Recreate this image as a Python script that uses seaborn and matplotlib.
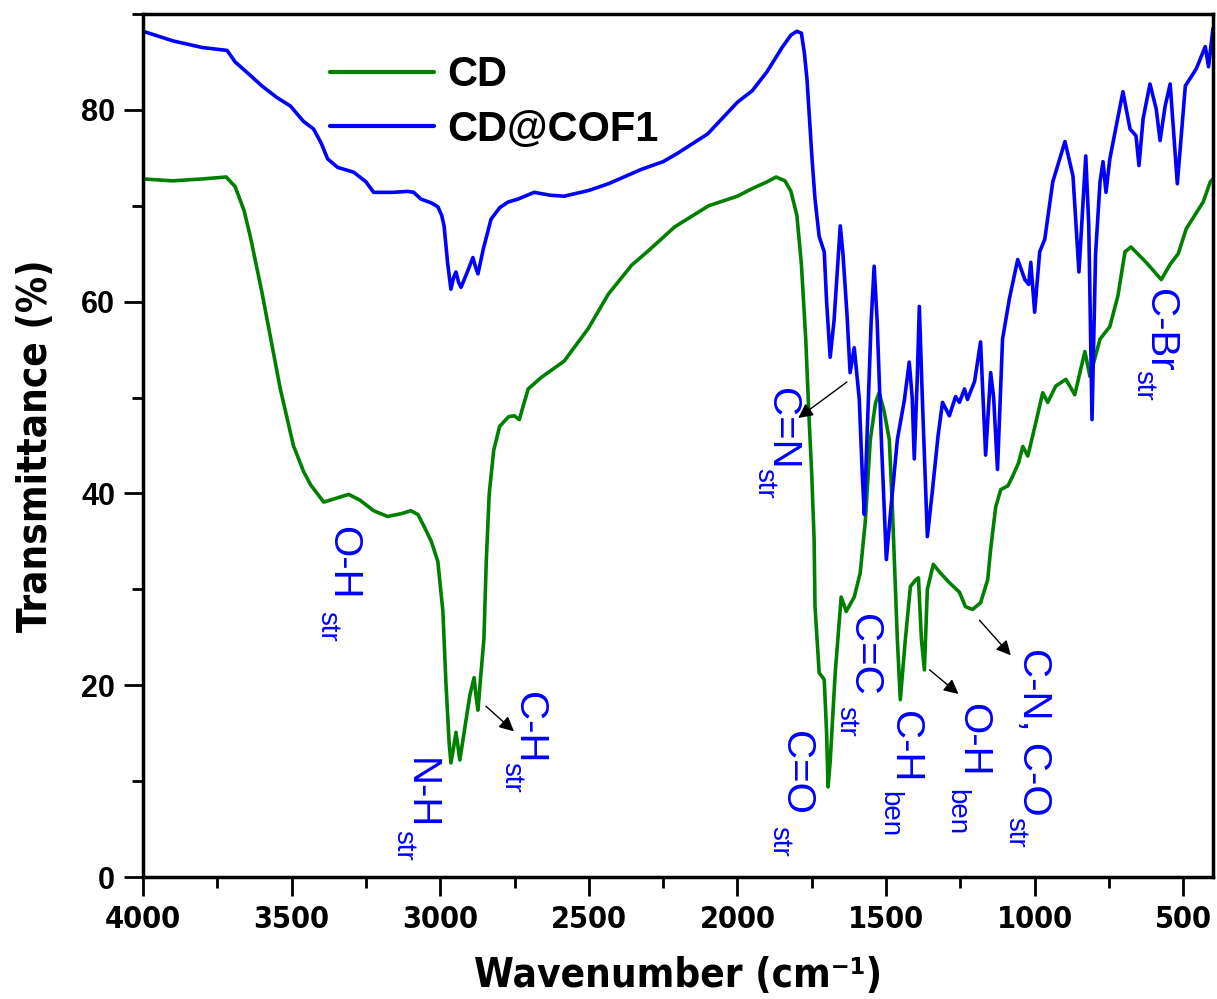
import matplotlib
matplotlib.use("Agg")
import matplotlib.pyplot as plt
from matplotlib import font_manager
from matplotlib.font_manager import FontProperties
from matplotlib.ticker import MultipleLocator
import seaborn as sns
import pandas as pd

# FTIR spectrum of CD (wavenumber in cm-1, transmittance in %)
cd_wavenumber = [4000, 3900, 3800, 3720, 3690, 3660, 3639, 3600, 3560, 3538, 3494, 3460,
                 3436, 3392, 3350, 3308, 3270, 3224, 3177, 3130, 3099, 3075, 3055, 3030,
                 3008, 2991, 2981, 2970, 2964, 2955, 2947, 2940, 2934, 2920, 2900, 2886,
                 2880, 2873, 2865, 2853, 2845, 2835, 2820, 2800, 2770, 2751, 2734, 2704,
                 2660, 2583, 2502, 2434, 2356, 2300, 2211, 2097, 2000, 1950, 1900, 1870,
                 1840, 1820, 1800, 1785, 1770, 1760, 1750, 1742, 1739, 1725, 1708, 1700,
                 1695, 1688, 1671, 1651, 1634, 1607, 1587, 1570, 1553, 1535, 1523, 1506,
                 1489, 1479, 1462, 1452, 1435, 1418, 1400, 1391, 1381, 1371, 1361, 1341,
                 1317, 1287, 1253, 1233, 1209, 1182, 1158, 1148, 1131, 1114, 1090, 1074,
                 1054, 1040, 1023, 996, 973, 956, 929, 895, 865, 831, 814, 780, 747, 720,
                 696, 676, 625, 574, 544, 517, 490, 433, 409, 400]
cd_transmittance = [72.8, 72.6, 72.8, 73.0, 72.0, 69.5, 66.8, 61.0, 54.5, 50.9, 45.0, 42.3,
                    40.9, 39.1, 39.5, 39.9, 39.3, 38.2, 37.6, 37.9, 38.2, 37.8, 36.6, 35.0,
                    32.9, 27.7, 20.4, 14.0, 11.9, 13.5, 15.1, 13.5, 12.2, 15.0, 19.0, 20.8,
                    19.0, 17.4, 20.5, 24.8, 33.0, 40.0, 44.5, 47.0, 48.0, 48.1, 47.7, 50.9,
                    52.1, 53.8, 57.2, 60.8, 63.8, 65.3, 67.8, 70.0, 71.0, 71.8, 72.5, 73.0,
                    72.6, 71.5, 69.0, 64.0, 56.0, 48.5, 42.0, 35.2, 28.2, 21.3, 20.6, 15.0,
                    9.4, 12.0, 21.3, 29.2, 27.7, 29.2, 31.7, 37.0, 45.6, 49.5, 50.5, 48.5,
                    45.6, 38.7, 24.8, 18.5, 24.8, 30.3, 31.0, 31.2, 24.8, 21.6, 30.0, 32.6,
                    31.7, 30.7, 29.7, 28.2, 27.9, 28.6, 31.0, 34.2, 38.6, 40.4, 40.8, 41.8,
                    43.2, 44.9, 43.9, 47.4, 50.5, 49.5, 51.2, 51.9, 50.3, 54.8, 52.2, 56.1,
                    57.4, 60.6, 65.2, 65.7, 64.1, 62.3, 63.9, 65.0, 67.6, 70.4, 72.5, 72.8]

# FTIR spectrum of CD@COF1
cof_wavenumber = [4000, 3900, 3800, 3717, 3690, 3639, 3600, 3550, 3504, 3460, 3426, 3400,
                  3379, 3345, 3291, 3250, 3224, 3160, 3109, 3089, 3065, 3030, 3008, 2995,
                  2987, 2975, 2964, 2955, 2947, 2938, 2930, 2910, 2890, 2880, 2873, 2855,
                  2829, 2800, 2771, 2738, 2684, 2630, 2583, 2500, 2434, 2323, 2250, 2200,
                  2100, 2000, 1950, 1900, 1850, 1820, 1800, 1785, 1775, 1766, 1749, 1739,
                  1725, 1708, 1700, 1688, 1675, 1654, 1645, 1631, 1621, 1607, 1590, 1580,
                  1573, 1565, 1550, 1540, 1530, 1515, 1499, 1485, 1462, 1438, 1422, 1412,
                  1405, 1395, 1388, 1378, 1361, 1345, 1325, 1310, 1287, 1266, 1253, 1236,
                  1226, 1202, 1182, 1165, 1148, 1138, 1125, 1108, 1085, 1070, 1057, 1033,
                  1020, 1013, 1000, 983, 966, 939, 898, 871, 851, 828, 818, 807, 795, 780,
                  770, 760, 747, 703, 679, 659, 649, 635, 612, 591, 578, 561, 544, 520,
                  493, 456, 426, 415, 400]
cof_transmittance = [88.2, 87.2, 86.5, 86.2, 85.0, 83.6, 82.5, 81.3, 80.4, 78.8, 78.0, 76.5,
                     74.9, 74.0, 73.5, 72.5, 71.4, 71.4, 71.5, 71.4, 70.7, 70.3, 69.9, 69.0,
                     67.9, 64.0, 61.3, 62.5, 63.1, 62.0, 61.5, 63.0, 64.6, 63.5, 62.9, 65.5,
                     68.6, 69.8, 70.4, 70.7, 71.4, 71.1, 71.0, 71.6, 72.3, 73.8, 74.6, 75.5,
                     77.5, 80.8, 82.0, 84.0, 86.5, 87.8, 88.2, 88.0, 86.0, 83.2, 74.9, 70.7,
                     66.8, 65.2, 60.0, 54.2, 58.0, 67.9, 65.0, 58.5, 52.6, 55.2, 49.8, 42.0,
                     37.8, 45.0, 58.0, 63.7, 58.0, 45.0, 33.1, 38.0, 45.6, 49.8, 53.7, 50.0,
                     43.6, 52.0, 59.5, 50.0, 35.5, 40.0, 46.0, 49.5, 48.1, 50.1, 49.5, 50.9,
                     49.8, 51.7, 55.8, 44.0, 52.6, 50.0, 42.5, 56.1, 60.3, 62.5, 64.4, 62.3,
                     61.8, 64.1, 58.9, 65.2, 66.5, 72.5, 76.7, 73.1, 63.1, 75.2, 68.0, 47.7,
                     65.0, 72.5, 74.6, 71.4, 74.9, 81.9, 78.0, 77.3, 74.2, 79.1, 82.7, 80.1,
                     76.8, 80.4, 82.7, 72.3, 82.5, 84.3, 86.6, 84.5, 88.5]

# band assignments: (label, subscript, label x, label y, sub x, sub y)
band_labels = [
    ("O-H", "str", 3325, 36.6, 3379, 27.7),
    ("N-H", "str", 3065, 12.4, 3123, 4.9),
    ("C-H", "str", 2701, 19.3, 2761, 12.0),
    ("C=N", "str", 1850, 51.0, 1911, 42.7),
    ("C=O", "str", 1803, 15.2, 1860, 5.3),
    ("C=C", "str", 1573, 27.4, 1634, 17.8),
    ("C-H", "ben", 1435, 17.3, 1489, 9.0),
    ("O-H", "ben", 1206, 18.1, 1263, 9.2),
    ("C-N, C-O", "str", 1003, 23.9, 1067, 6.3),
    ("C-Br", "str", 578, 61.3, 635, 52.9),
]
# arrows: (from x, from y, to x, to y)
band_arrows = [
    (2853, 18.0, 2745, 15.0),
    (1624, 51.8, 1803, 47.7),
    (1361, 21.8, 1249, 18.9),
    (1192, 27.0, 1074, 22.9),
]

df = pd.concat([
    pd.DataFrame({"Wavenumber": cd_wavenumber, "Transmittance": cd_transmittance, "Sample": "CD"}),
    pd.DataFrame({"Wavenumber": cof_wavenumber, "Transmittance": cof_transmittance, "Sample": "CD@COF1"}),
], ignore_index=True)

sns.set_style("ticks")
plt.rcParams["font.family"] = ["Liberation Sans", "DejaVu Sans"]
for key in ["text.color", "axes.labelcolor", "xtick.color", "ytick.color", "axes.edgecolor"]:
    plt.rcParams[key] = "black"

# the axis labels and x tick labels of the original are in a condensed bold face
narrow_file = None
for f in font_manager.fontManager.ttflist:
    condensed = ("Narrow" in f.name or "Condensed" in f.name
                 or f.stretch in ("condensed", "semi-condensed"))
    if condensed and f.weight in ("bold", 700):
        narrow_file = f.fname
        break
if narrow_file:
    tick_font = FontProperties(fname=narrow_file, size=22)
    label_font = FontProperties(fname=narrow_file, size=29)
else:
    tick_font = FontProperties(family="Liberation Sans", weight="bold", size=21)
    label_font = FontProperties(family="Liberation Sans", weight="bold", size=28)

fig = plt.figure(figsize=(12.17, 9.99), dpi=100)
ax = fig.add_axes([0.1175, 0.1221, 0.8792, 0.8639])

sns.lineplot(data=df, x="Wavenumber", y="Transmittance", hue="Sample",
             palette={"CD": "#008000", "CD@COF1": "#0000FF"},
             estimator=None, sort=False, linewidth=2.6, ax=ax)

ax.set_xlim(4000, 400)
ax.set_ylim(0, 90)
ax.xaxis.set_major_locator(MultipleLocator(500))
ax.xaxis.set_minor_locator(MultipleLocator(250))
ax.yaxis.set_major_locator(MultipleLocator(20))
ax.yaxis.set_minor_locator(MultipleLocator(10))
ax.tick_params(which="major", direction="out", length=14, width=2, pad=6, colors="black")
ax.tick_params(which="minor", direction="out", length=8, width=2, colors="black")
for s in ax.spines.values():
    s.set_linewidth(2.5)
    s.set_color("black")
    s.set_visible(True)

for t in ax.get_yticklabels():
    t.set_fontsize(22)
    t.set_fontweight("bold")
for t in ax.get_xticklabels():
    t.set_fontproperties(tick_font)

ax.set_xlabel("Wavenumber (cm\u207b\u00b9)", fontproperties=label_font, labelpad=16)
ax.set_ylabel("Transmittance (%)", fontproperties=label_font, labelpad=18)

leg = ax.legend(loc="upper left", bbox_to_anchor=(0.175, 0.952), frameon=False,
                borderaxespad=0, borderpad=0, handlelength=2.5, handletextpad=0.3,
                labelspacing=0.35, prop={"size": 30, "weight": "bold"})
for line in leg.get_lines():
    line.set_linewidth(3)

for lab, sub, lx, ly, sx, sy in band_labels:
    ax.text(lx, ly, lab, rotation=270, ha="center", va="top", fontsize=29, color="#0000FF")
    ax.text(sx, sy, sub, rotation=270, ha="center", va="top", fontsize=20, color="#0000FF")

for x0, y0, x1, y1 in band_arrows:
    ax.annotate("", xy=(x1, y1), xytext=(x0, y0),
                arrowprops=dict(arrowstyle="-|>", color="black", lw=1, mutation_scale=22))

fig.savefig("out.png", dpi=100)
